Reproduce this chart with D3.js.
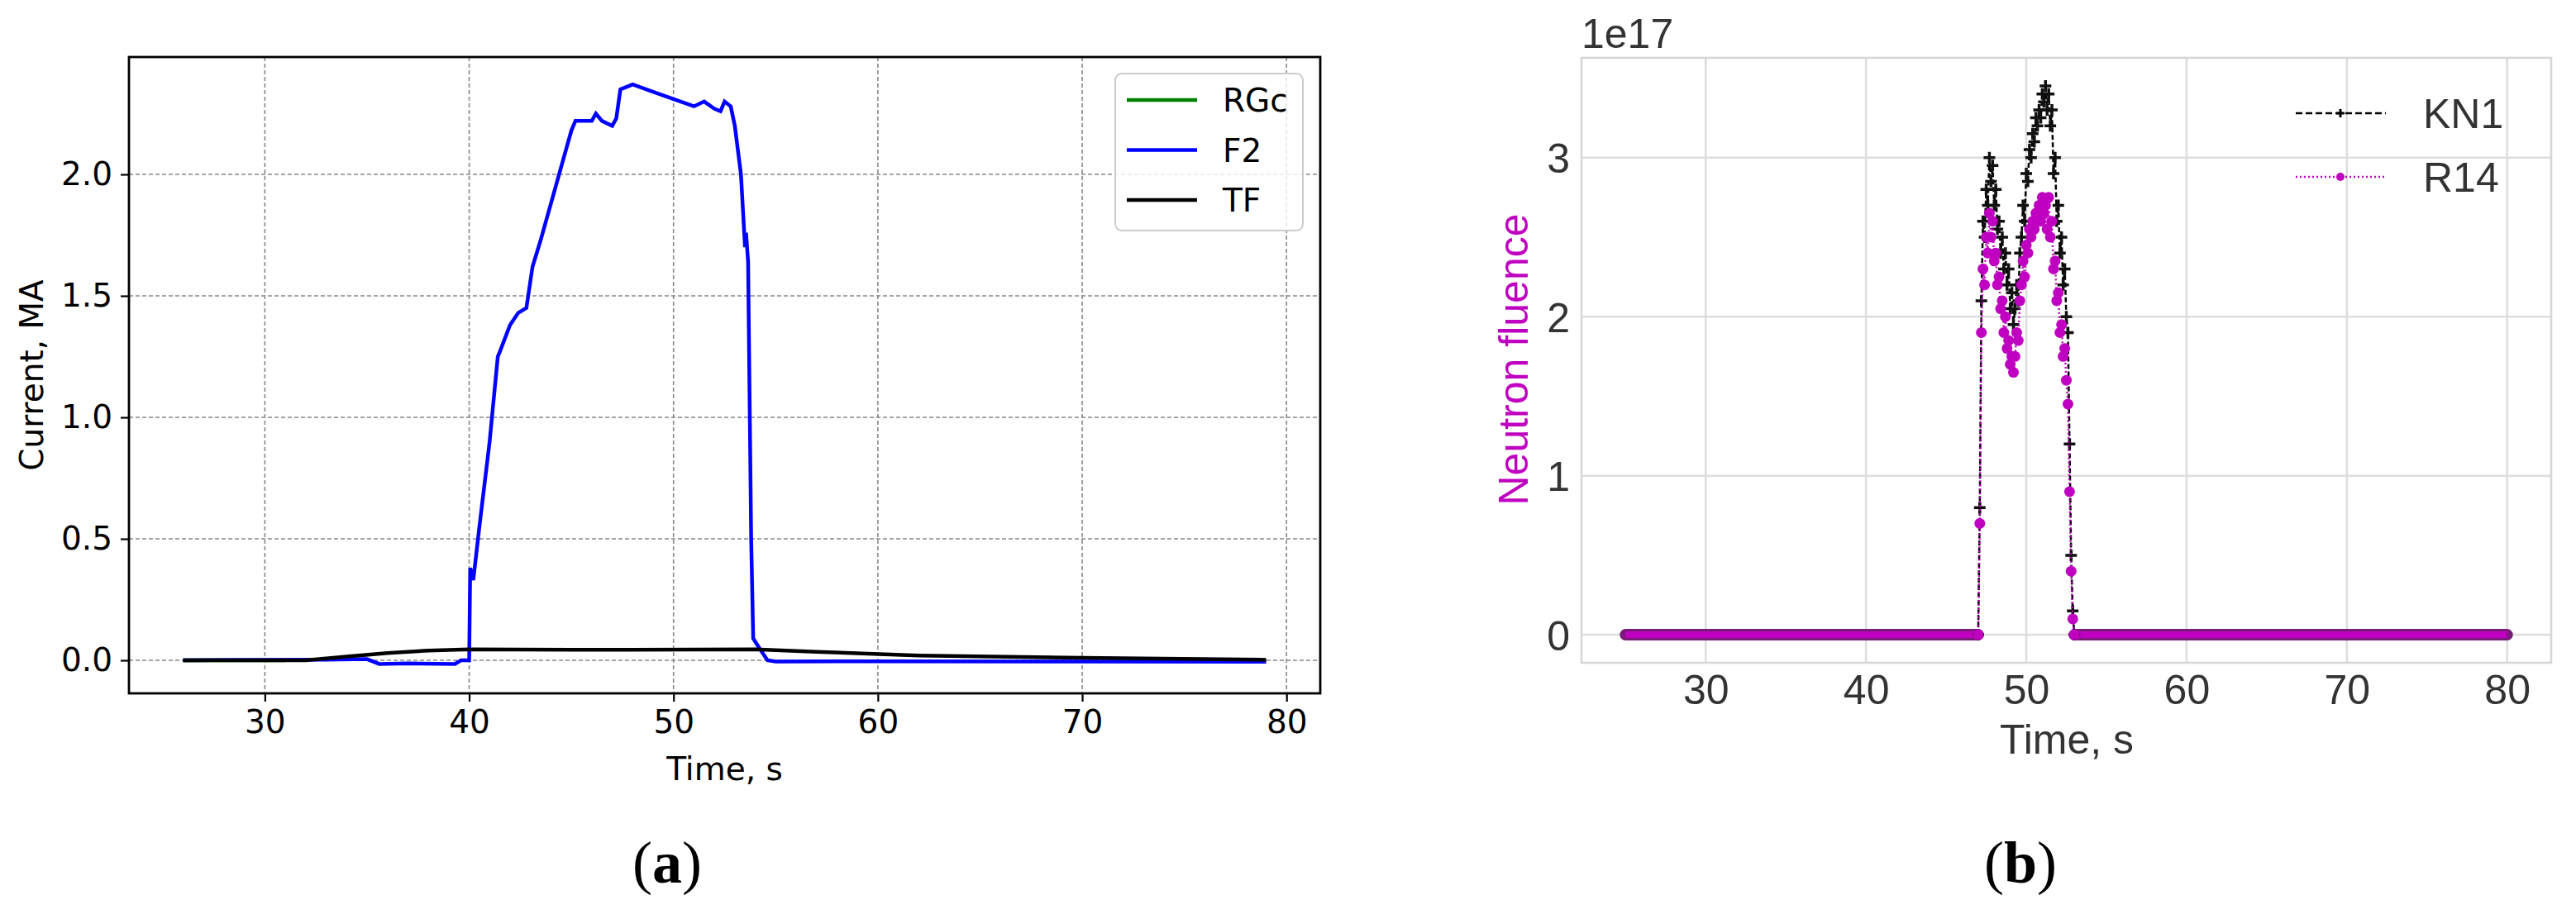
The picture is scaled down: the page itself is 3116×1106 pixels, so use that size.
<!DOCTYPE html>
<html><head><meta charset="utf-8">
<script src="https://cdn.jsdelivr.net/npm/d3@7"></script>
<style>body{margin:0;background:#fff}</style>
</head><body>
<svg id="c" width="3116" height="1106"></svg>
<script>
// ---- Panel (a) data ----
const f2T = [26,30,33,35,35.6,37,39.3,39.6,40.0,40.05,40.2,40.5,41,41.4,41.5,42,42.4,42.8,43.1,43.5,44,44.5,45,45.2,46,46.2,46.5,47,47.2,47.4,48,49,50,51,51.5,52,52.3,52.5,52.8,53.0,53.3,53.5,53.55,53.65,53.8,53.9,54.2,54.6,55,60,70,79];
const f2V = [0,0.002,0.003,0.005,-0.015,-0.013,-0.015,0.0,0.0,0.38,0.33,0.55,0.9,1.25,1.27,1.38,1.43,1.45,1.62,1.73,1.88,2.03,2.18,2.22,2.22,2.25,2.22,2.2,2.23,2.35,2.37,2.34,2.31,2.28,2.3,2.27,2.26,2.3,2.28,2.2,2.0,1.7,1.76,1.64,0.5,0.09,0.05,0.0,-0.005,-0.004,-0.005,-0.006];
const tfT = [26,32,34,36,38,40,45,54,57,62,70,79];
const tfV = [0,0,0.015,0.03,0.04,0.045,0.043,0.045,0.035,0.02,0.01,0.002];
const rgcT = [26,31];
const rgcV = [0,0];
const aXTicks = [30,40,50,60,70,80];
const aYTicks = [0.0,0.5,1.0,1.5,2.0];
const aLegend = ["RGc","F2","TF"];
const aColors = ["#008000","#0000ff","#000000"];

// ---- Panel (b) data ----
const peakT = [47.0,47.1,47.2,47.3,47.4,47.5,47.6,47.7,47.8,47.9,48.0,48.1,48.2,48.3,48.4,48.5,48.6,48.7,48.8,48.9,49.0,49.1,49.2,49.3,49.4,49.5,49.6,49.7,49.8,49.9,50.0,50.1,50.2,50.3,50.4,50.5,50.6,50.7,50.8,50.9,51.0,51.1,51.2,51.3,51.4,51.5,51.6,51.7,51.8,51.9,52.0,52.1,52.2,52.3,52.4,52.5,52.6,52.7,52.8,52.9,53.0];
const kn1V = [0,0.8,2.1,2.6,2.5,2.8,2.7,3.0,2.85,2.95,2.7,2.8,2.55,2.6,2.4,2.5,2.3,2.4,2.2,2.3,2.05,2.15,1.95,2.05,2.2,2.1,2.4,2.5,2.7,2.6,2.9,2.85,3.05,3.0,3.15,3.1,3.25,3.2,3.3,3.25,3.4,3.35,3.45,3.3,3.4,3.2,3.3,2.9,3.0,2.6,2.7,2.4,2.5,2.2,2.3,2.0,1.9,1.2,0.5,0.15,0];
const r14V = [0,0.7,1.9,2.3,2.2,2.5,2.4,2.65,2.5,2.6,2.35,2.4,2.2,2.25,2.05,2.1,1.9,2.0,1.8,1.85,1.7,1.75,1.65,1.75,1.9,1.85,2.1,2.2,2.35,2.25,2.45,2.4,2.55,2.5,2.6,2.55,2.65,2.6,2.7,2.6,2.75,2.65,2.7,2.55,2.75,2.5,2.6,2.3,2.35,2.1,2.15,1.9,1.95,1.75,1.8,1.6,1.45,0.9,0.4,0.1,0];
const baseT = [[25,47],[53,80]];
const bXTicks = [30,40,50,60,70,80];
const bYTicks = [0,1,2,3];

const svg = d3.select("#c");

// ================= Panel (a) =================
(function(){
  const L=156,R=1597,T=69,B=839;
  const x=d3.scaleLinear().domain([23.35,81.65]).range([L,R]);
  const y=d3.scaleLinear().domain([-0.136,2.483]).range([B,T]);
  const g=svg.append("g");
  aXTicks.forEach(t=>g.append("line").attr("x1",x(t)).attr("x2",x(t)).attr("y1",T).attr("y2",B)
    .attr("stroke","#888").attr("stroke-width",1.6).attr("stroke-dasharray","5,3"));
  aYTicks.forEach(t=>g.append("line").attr("x1",L).attr("x2",R).attr("y1",y(t)).attr("y2",y(t))
    .attr("stroke","#888").attr("stroke-width",1.6).attr("stroke-dasharray","5,3"));
  const line=d3.line().x(d=>x(d[0])).y(d=>y(d[1]));
  g.append("path").attr("d",line(d3.zip(rgcT,rgcV))).attr("fill","none").attr("stroke",aColors[0]).attr("stroke-width",4.5);
  g.append("path").attr("d",line(d3.zip(f2T,f2V))).attr("fill","none").attr("stroke",aColors[1]).attr("stroke-width",4.5);
  g.append("path").attr("d",line(d3.zip(tfT,tfV))).attr("fill","none").attr("stroke",aColors[2]).attr("stroke-width",4.5);
  const xa=g.append("g").attr("transform",`translate(0,${B})`).call(d3.axisBottom(x).tickValues(aXTicks).tickSize(10).tickPadding(10).tickFormat(d3.format("d")));
  const ya=g.append("g").attr("transform",`translate(${L},0)`).call(d3.axisLeft(y).tickValues(aYTicks).tickSize(10).tickPadding(10).tickFormat(d3.format(".1f")));
  [xa,ya].forEach(a=>{a.select(".domain").remove();a.selectAll("line").attr("stroke","#000").attr("stroke-width",2.2);
    a.selectAll("text").attr("font-family","DejaVu Sans").attr("font-size",39).attr("fill","#000");});
  g.append("rect").attr("x",L).attr("y",T).attr("width",R-L).attr("height",B-T).attr("fill","none").attr("stroke","#000").attr("stroke-width",2.8);
  g.append("text").attr("x",(L+R)/2).attr("y",944).attr("text-anchor","middle").attr("font-family","DejaVu Sans").attr("font-size",39).text("Time, s");
  g.append("text").attr("transform",`translate(52,${(T+B)/2}) rotate(-90)`).attr("text-anchor","middle").attr("font-family","DejaVu Sans").attr("font-size",39).text("Current, MA");
  g.append("rect").attr("x",1349).attr("y",89).attr("width",227).attr("height",190).attr("rx",8)
    .attr("fill","rgba(255,255,255,0.8)").attr("stroke","#ccc").attr("stroke-width",2);
  aLegend.forEach((n,i)=>{const yy=121+i*60.5;
    g.append("line").attr("x1",1363).attr("x2",1448).attr("y1",yy).attr("y2",yy).attr("stroke",aColors[i]).attr("stroke-width",4.5);
    g.append("text").attr("x",1479).attr("y",yy+14).attr("font-family","DejaVu Sans").attr("font-size",39).text(n);});
  svg.append("text").attr("x",807).attr("y",1068).attr("text-anchor","middle").attr("font-family","Liberation Serif").attr("font-size",72)
    .html('(<tspan font-weight="bold">a</tspan>)');
})();

// ================= Panel (b) =================
(function(){
  const L=1913,R=3086,T=70,B=802;
  const x=d3.scaleLinear().domain([22.25,82.75]).range([L,R]);
  const y=d3.scaleLinear().domain([-0.176,3.627]).range([B,T]);
  const g=svg.append("g");
  bXTicks.forEach(t=>g.append("line").attr("x1",x(t)).attr("x2",x(t)).attr("y1",T).attr("y2",B).attr("stroke","#ddd").attr("stroke-width",2.5));
  bYTicks.forEach(t=>g.append("line").attr("x1",L).attr("x2",R).attr("y1",y(t)).attr("y2",y(t)).attr("stroke","#ddd").attr("stroke-width",2.5));
  g.append("rect").attr("x",L).attr("y",T).attr("width",R-L).attr("height",B-T).attr("fill","none").attr("stroke","#d6d6d6").attr("stroke-width",2.5);
  const line=d3.line().x(d=>x(d[0])).y(d=>y(d[1]));
  baseT.forEach(s=>g.append("path").attr("d",line(s.map(t=>[t,0]))).attr("stroke","#7a1a7a").attr("stroke-width",14).attr("stroke-linecap","round"));
  baseT.forEach(s=>g.append("path").attr("d",line(s.map(t=>[t,0]))).attr("stroke","#c000c0").attr("stroke-width",8));
  const kn=d3.zip(peakT,kn1V), r=d3.zip(peakT,r14V);
  g.append("path").attr("d",line(kn)).attr("fill","none").attr("stroke","#000").attr("stroke-width",2.5).attr("stroke-dasharray","6,3");
  kn.forEach(d=>{g.append("path").attr("d",`M${x(d[0])-7},${y(d[1])}h14M${x(d[0])},${y(d[1])-7}v14`).attr("stroke","#111").attr("stroke-width",3.5);});
  g.append("path").attr("d",line(r)).attr("fill","none").attr("stroke","#c000c0").attr("stroke-width",2.5).attr("stroke-dasharray","2,3");
  r.forEach(d=>g.append("circle").attr("cx",x(d[0])).attr("cy",y(d[1])).attr("r",6.5).attr("fill","#c000c0"));
  const xa=g.append("g").attr("transform",`translate(0,${B})`).call(d3.axisBottom(x).tickValues(bXTicks).tickSize(0).tickPadding(14).tickFormat(d3.format("d")));
  const ya=g.append("g").attr("transform",`translate(${L},0)`).call(d3.axisLeft(y).tickValues(bYTicks).tickSize(0).tickPadding(14).tickFormat(d3.format("d")));
  [xa,ya].forEach(a=>{a.select(".domain").remove();
    a.selectAll("text").attr("font-family","Liberation Sans").attr("font-size",50).attr("fill","#333");});
  ya.selectAll("text").attr("dy","0.36em");
  g.append("text").attr("x",1913).attr("y",58).attr("font-family","Liberation Sans").attr("font-size",50).attr("fill","#333").text("1e17");
  g.append("text").attr("x",2500).attr("y",912).attr("text-anchor","middle").attr("font-family","Liberation Sans").attr("font-size",50).attr("fill","#333").text("Time, s");
  g.append("text").attr("transform",`translate(1848,435) rotate(-90)`).attr("text-anchor","middle").attr("font-family","Liberation Sans").attr("font-size",50).attr("fill","#c000c0").text("Neutron fluence");
  g.append("line").attr("x1",2777).attr("x2",2886).attr("y1",137).attr("y2",137).attr("stroke","#000").attr("stroke-width",2.5).attr("stroke-dasharray","8,4");
  g.append("path").attr("d","M2826,137h10M2831,132v10").attr("stroke","#000").attr("stroke-width",3);
  g.append("line").attr("x1",2777).attr("x2",2886).attr("y1",214).attr("y2",214).attr("stroke","#c000c0").attr("stroke-width",2.5).attr("stroke-dasharray","2,3");
  g.append("circle").attr("cx",2831).attr("cy",214).attr("r",5).attr("fill","#c000c0");
  g.append("text").attr("x",2931).attr("y",155).attr("font-family","Liberation Sans").attr("font-size",50).attr("fill","#333").text("KN1");
  g.append("text").attr("x",2931).attr("y",232).attr("font-family","Liberation Sans").attr("font-size",50).attr("fill","#333").text("R14");
  svg.append("text").attr("x",2444).attr("y",1068).attr("text-anchor","middle").attr("font-family","Liberation Serif").attr("font-size",72)
    .html('(<tspan font-weight="bold">b</tspan>)');
})();
</script>
</body></html>
